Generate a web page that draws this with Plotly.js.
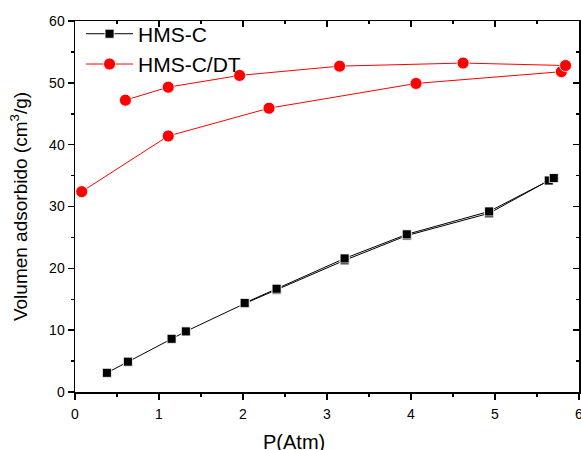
<!DOCTYPE html>
<html>
<head>
<meta charset="utf-8">
<script src="https://cdn.plot.ly/plotly-3.0.1.min.js"></script>
<style>html,body{margin:0;padding:0;background:#fff;}#chart{width:581px;height:450px;}</style>
</head>
<body>
<div id="chart"></div>
<script>
// HMS-C: adsorption then desorption
const hmsX = [0.38, 0.63, 1.15, 1.32, 2.02, 2.40, 3.21, 3.95, 4.93, 5.64, 5.70, 4.93, 3.95, 3.21, 2.40, 2.02];
const hmsY = [3.1, 4.9, 8.6, 9.8, 14.3, 16.5, 21.3, 25.3, 28.9, 34.2, 34.6, 29.2, 25.5, 21.6, 16.7, 14.4];
// HMS-C/DT: adsorption then desorption
const dtX = [0.08, 1.11, 2.31, 4.06, 5.79, 5.84, 4.62, 3.15, 1.96, 1.11, 0.60];
const dtY = [32.4, 41.4, 45.9, 49.9, 51.8, 52.8, 53.2, 52.7, 51.2, 49.3, 47.2];
const seriesNames = ["HMS-C", "HMS-C/DT"];
const xTitle = "P(Atm)";
const yTitle = "Volumen adsorbido (cm<sup>3</sup>/g)";

const font = "Liberation Sans, Arial, sans-serif";
const traces = [
  {x: hmsX, y: hmsY, name: seriesNames[0], type: "scatter", mode: "lines+markers",
   line: {color: "#000", width: 1},
   marker: {symbol: "square", size: 9, color: "#000", line: {color: "#fff", width: 0.8}}},
  {x: dtX, y: dtY, name: seriesNames[1], type: "scatter", mode: "lines+markers",
   line: {color: "#ff0000", width: 1},
   marker: {symbol: "circle", size: 12, color: "#ff0000", line: {color: "#fff", width: 0.8}}},
  {x: [0], y: [0], xaxis: "x2", yaxis: "y2", showlegend: false, hoverinfo: "skip",
   mode: "markers", marker: {opacity: 0}}
];
const axCommon = {
  showgrid: false, zeroline: false, showline: true, linecolor: "#000", linewidth: 1.5,
  tickcolor: "#000", tickwidth: 1.5, ticklen: 6, ticklabeloverflow: "allow",
  tickfont: {family: font, size: 14, color: "#000"}
};
const layout = {
  width: 581, height: 450,
  margin: {l: 75, r: 2, t: 21, b: 58},
  paper_bgcolor: "#fff", plot_bgcolor: "#fff",
  font: {family: font, color: "#000"},
  showlegend: true,
  legend: {x: 0.012, y: 1.02, xanchor: "left", yanchor: "top", bgcolor: "rgba(0,0,0,0)",
    font: {family: font, size: 21, color: "#000"}, itemwidth: 47, tracegroupgap: 0},
  xaxis: Object.assign({}, axCommon, {range: [0, 6], dtick: 1, ticks: "outside", ticklabelstandoff: 3,
    minor: {dtick: 0.5, ticks: "outside", ticklen: 3, tickcolor: "#000", tickwidth: 1.5}}),
  yaxis: Object.assign({}, axCommon, {range: [0, 60], dtick: 10, ticks: "outside",
    title: {text: yTitle, font: {family: font, size: 19, color: "#000"}, standoff: 16},
    minor: {dtick: 5, ticks: "outside", ticklen: 3, tickcolor: "#000", tickwidth: 1.5}}),
  xaxis2: Object.assign({}, axCommon, {range: [0, 6], dtick: 1, ticks: "inside", side: "top",
    overlaying: "x", showticklabels: false,
    minor: {dtick: 0.5, ticks: "inside", ticklen: 3, tickcolor: "#000", tickwidth: 1.5}}),
  yaxis2: Object.assign({}, axCommon, {range: [0, 60], dtick: 10, ticks: "inside", side: "right",
    overlaying: "y", showticklabels: false,
    minor: {dtick: 5, ticks: "inside", ticklen: 3, tickcolor: "#000", tickwidth: 1.5}}),
  annotations: [{text: xTitle, xref: "paper", yref: "paper", x: 0.435, y: -0.099,
    xanchor: "center", yanchor: "top", showarrow: false,
    font: {family: font, size: 20, color: "#000"}}]
};
Plotly.newPlot("chart", traces, layout, {displayModeBar: false, staticPlot: true});
</script>
</body>
</html>
